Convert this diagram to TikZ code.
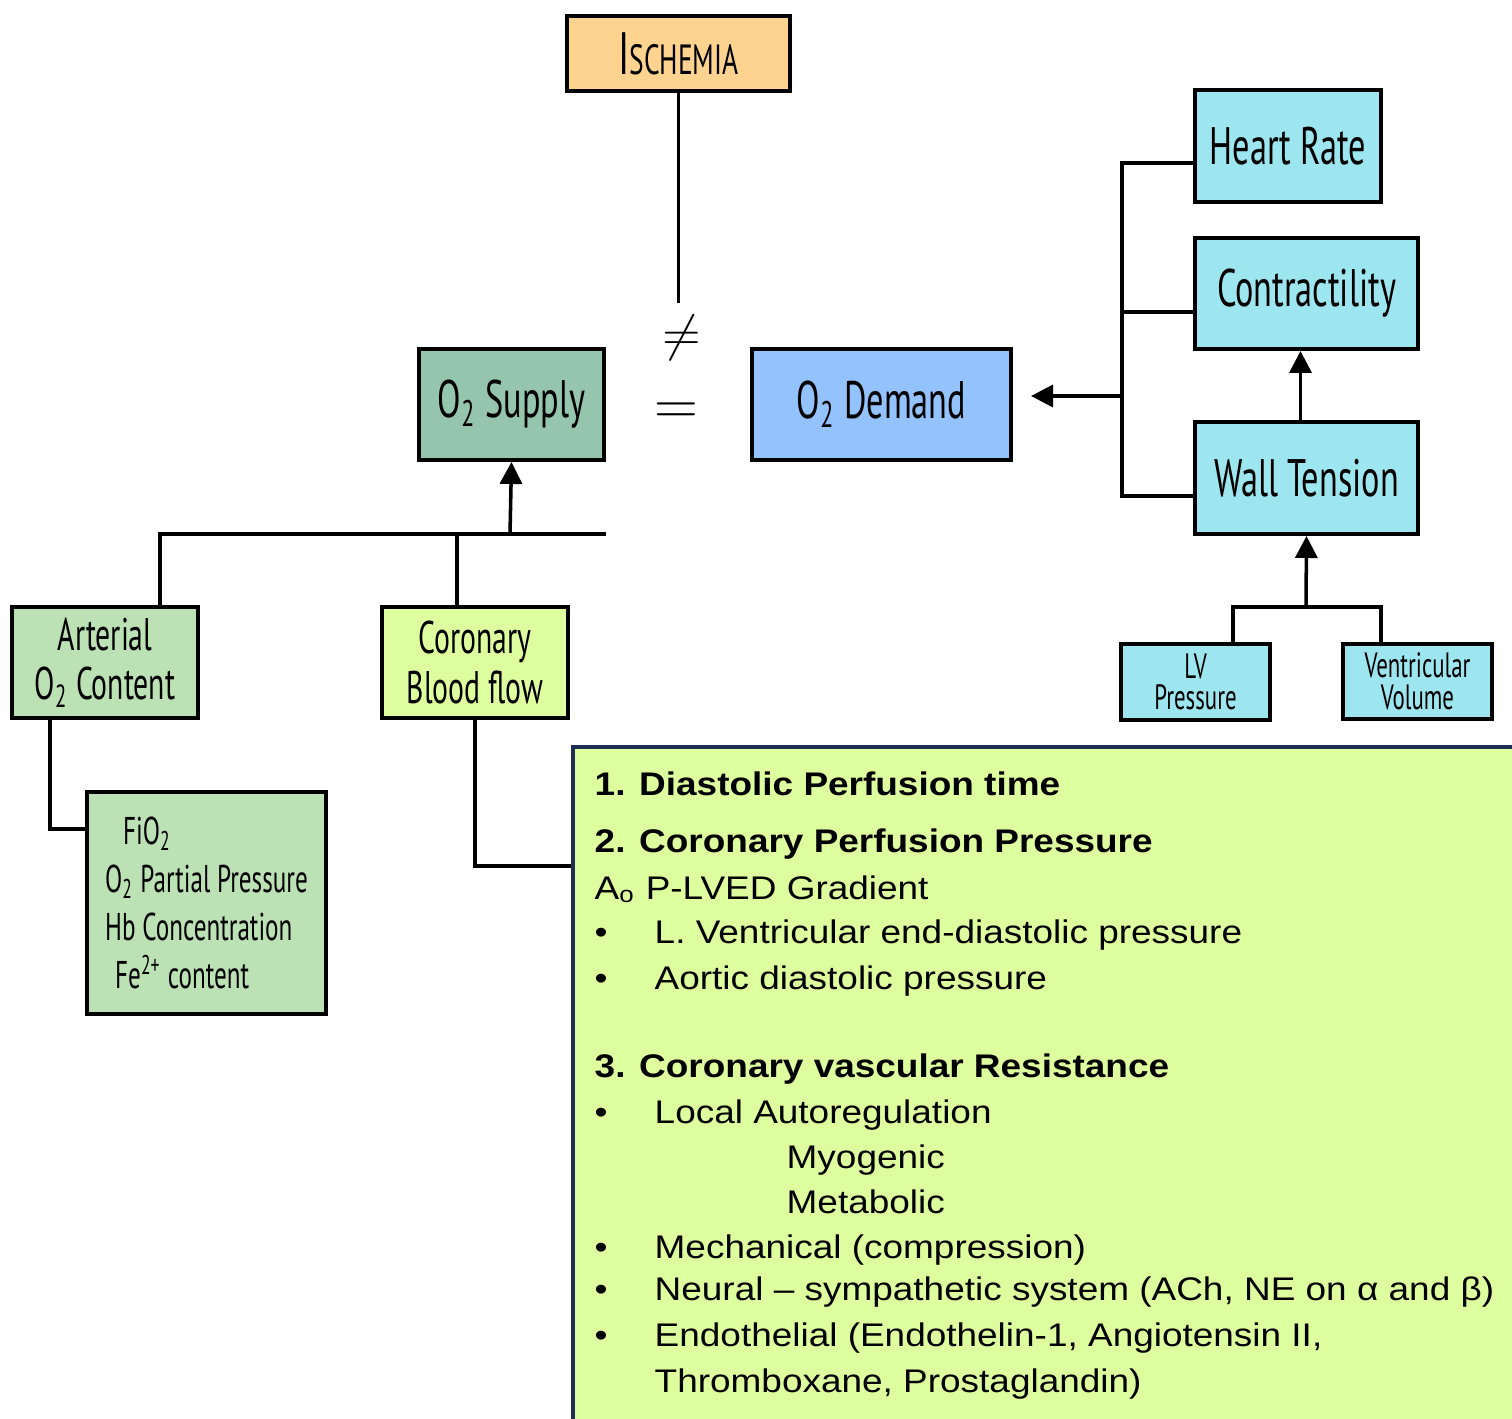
\documentclass[tikz,border=0pt]{standalone}
\usepackage{fontspec}
\newfontfamily\hand[FakeStretch=0.65]{PT Sans}
\newfontfamily\slidefont[FakeStretch=1.13]{Liberation Sans}
\usetikzlibrary{positioning,arrows.meta}

\definecolor{ischfill}{HTML}{FDD38F}
\definecolor{supfill}{HTML}{95C6AD}
\definecolor{demfill}{HTML}{94C2FC}
\definecolor{cyanfill}{HTML}{9EE6EF}
\definecolor{artfill}{HTML}{BBE1B4}
\definecolor{limefill}{HTML}{DEFD9F}
\definecolor{navy}{HTML}{1F2E55}

\begin{document}
\begin{tikzpicture}[x=0.01cm,y=-0.01cm,
  >={Triangle[width=2.2mm,length=2.2mm]},
  hbox/.style={rectangle,draw,line width=1.1pt,inner sep=0pt,align=center,
               font=\hand\fontsize{15}{18}\selectfont},
  midbox/.style={hbox,font=\hand\fontsize{13}{14}\selectfont},
  smallbox/.style={hbox,fill=cyanfill,minimum width=14.9mm,minimum height=7.6mm,
                   font=\hand\fontsize{10}{9}\selectfont},
  conn/.style={line width=1pt},
  arr/.style={conn,->},
  slide/.style={anchor=base west,inner sep=0pt,font=\slidefont\fontsize{9.3}{11}\selectfont},
  slidebf/.style={slide,font=\slidefont\fontsize{9.3}{11}\selectfont\bfseries}
]
  \useasboundingbox (0,0) rectangle (1512,1418);
  \clip (0,0) rectangle (1512,1418);

  % ---------- top: ischemia and balance ----------
  \node[hbox,fill=ischfill,minimum width=22.3mm,minimum height=7.5mm] (isch) at (678.5,53.5)
    {{\fontsize{17}{17}\selectfont I}{\fontsize{12}{12}\selectfont SCHEMIA}};
  \node[font=\Large] (neq) at (682,338) {$\neq$};
  \node[font=\LARGE] (eq) at (676,414) {$=$};
  \node[hbox,fill=supfill,minimum width=18.5mm,minimum height=11.1mm] (supply) at (511.5,404.5)
    {O\textsubscript{2} Supply};
  \node[hbox,fill=demfill,minimum width=25.9mm,minimum height=11.1mm] (demand) at (881.5,404.5)
    {O\textsubscript{2} Demand};

  \draw[conn] (isch.south) -- (isch.south |- neq.north);

  % ---------- demand side ----------
  \node[hbox,fill=cyanfill,minimum width=18.6mm,minimum height=11.2mm] (hr) at (1288,146) {Heart Rate};
  \node[hbox,fill=cyanfill,minimum width=22.3mm,minimum height=11.1mm] (contr) at (1306.5,293.5) {Contractility};
  \node[hbox,fill=cyanfill,minimum width=22.3mm,minimum height=11.2mm] (wall) at (1306.5,478) {Wall Tension};
  \node[smallbox] (lvp) at (1195.5,682) {LV\\Pressure};
  \node[smallbox,minimum height=7.5mm] (vvol) at (1417.5,681.5) {Ventricular\\Volume};

  \coordinate (bus) at (1122,396);
  \coordinate (vfork) at (1306,607);

  \draw[conn] ([yshift=-1.7mm]hr.west) -| (bus) |- ([yshift=-1.8mm]wall.west);
  \draw[conn] ([yshift=-1.85mm]contr.west) -- ++(-73,0);
  \draw[arr] (bus) -- ([xshift=1.8mm,yshift=0.85mm]demand.east);
  \draw[arr] ([xshift=-0.6mm]wall.north) -- ([xshift=-0.6mm]contr.south);
  \draw[conn] ([xshift=3.75mm]lvp.north) |- (vfork) -| ([xshift=-3.65mm]vvol.north);
  \draw[arr] (vfork) -- (wall.south);

  % ---------- supply side ----------
  \node[midbox,fill=artfill,minimum width=18.6mm,minimum height=11.1mm] (art) at (105,662.5)
    {Arterial\\O\textsubscript{2} Content};
  \node[midbox,fill=limefill,minimum width=18.6mm,minimum height=11.1mm] (cbf) at (475,662.5)
    {Coronary\\Blood flow};
  \node[hbox,fill=artfill,minimum width=23.9mm,minimum height=22.2mm,align=left,
        font=\hand\fontsize{11}{13.7}\selectfont] (fio) at (206.5,903)
    {\hspace{1.8mm}FiO\textsubscript{2}\\O\textsubscript{2} Partial Pressure\\Hb Concentration\\
     \hspace{1mm}Fe\textsuperscript{2+} content};

  \coordinate (sbus) at (606,534);
  \coordinate (sfork) at (510,534);
  \coordinate (bigin) at (573,866);

  \draw[conn] ([xshift=5.5mm]art.north) |- (sbus);
  \draw[conn] ([xshift=-1.8mm]cbf.north) -- ++(0,-73);
  \draw[arr] (sfork) -- (supply.south);
  \draw[conn] ([xshift=-5.5mm]art.south) |- ([yshift=7.4mm]fio.west);
  \draw[conn] (cbf.south) |- (bigin);

  % ---------- coronary blood flow determinants ----------
  \draw[draw=navy,line width=1.1pt,fill=limefill] (573,747) rectangle (1530,1440);

  \node[slidebf] (l1) at (594,795) {1. Diastolic Perfusion time};
  \node[slidebf] (l2) at (594,852) {2. Coronary Perfusion Pressure};
  \node[slide] (l2a) at (594,899) {A\textsubscript{o} P-LVED Gradient};
  \node[slide] (l2b) at (654,943) {L. Ventricular end-diastolic pressure};
  \node[slide] (l2c) at (654,989) {Aortic diastolic pressure};
  \node[slidebf] (l3) at (594,1077) {3. Coronary vascular Resistance};
  \node[slide] (l3a) at (654,1123) {Local Autoregulation};
  \node[slide] (l3a1) at (786,1168) {Myogenic};
  \node[slide] (l3a2) at (786,1213) {Metabolic};
  \node[slide] (l3b) at (654,1258) {Mechanical (compression)};
  \node[slide] (l3c) at (654,1300) {Neural – sympathetic system (ACh, NE on α and β)};
  \node[slide] (l3d) at (654,1346) {Endothelial (Endothelin-1, Angiotensin II,};
  \node[slide] (l3d2) at (654,1392) {Thromboxane, Prostaglandin)};
  \foreach \yy in {943,989,1123,1258,1300,1346}
    \node[slide] (b\yy) at (594,\yy) {•};
\end{tikzpicture}
\end{document}
